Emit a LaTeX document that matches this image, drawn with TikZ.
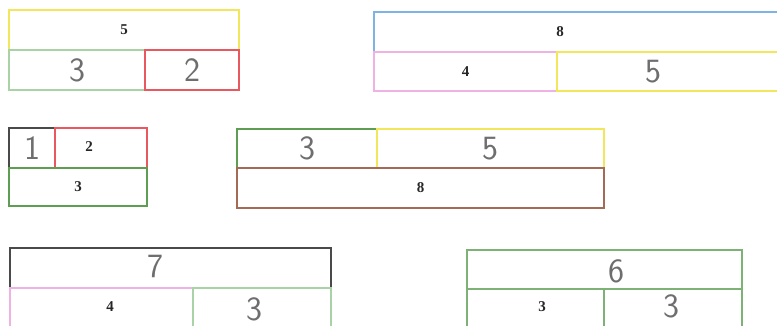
\documentclass[tikz,border=0pt]{standalone}
\usepackage{fontspec}
\usepackage{tikz}
\usetikzlibrary{positioning}
\newfontfamily\printfont{Liberation Serif}
\definecolor{barYellow}{HTML}{F2E65A}
\definecolor{barMint}{HTML}{A9D3A6}
\definecolor{barRed}{HTML}{E8585E}
\definecolor{barBlue}{HTML}{7FB3E6}
\definecolor{barPink}{HTML}{EFB3E3}
\definecolor{barDark}{HTML}{4A4A4A}
\definecolor{barGreen}{HTML}{5E9E52}
\definecolor{barBrown}{HTML}{A56A55}
\definecolor{handGray}{HTML}{6E6E6E}

\begin{document}
\begin{tikzpicture}[x=1pt, y=-1pt,
  cell/.style={draw, line width=1.6pt, inner sep=0pt, outer sep=0pt,
    anchor=north west, minimum height=40pt},
  printed/.style={font=\printfont\bfseries\fontsize{15pt}{15pt}\selectfont, text=black!85},
  hand/.style={font=\sffamily\fontsize{34pt}{34pt}\selectfont, text=handGray}]
  \useasboundingbox (0,0) rectangle (777,326);
  \clip (0,0) rectangle (777,326);
  % top left: 5 = 3 + 2
  \node[cell, printed, draw=barYellow, minimum width=230pt] (fiveTop) at (9,10) {5};
  \node[cell, hand, draw=barMint, minimum width=136pt] (threeA) at (9,50) {3};
  \node[cell, hand, draw=barRed, minimum width=94pt] (twoA) at (145,50) {2};
  % top right: 8 = 4 + 5 (runs off the page)
  \node[cell, draw=barBlue, minimum width=420pt] (eightTop) at (374,12) {};
  \node[printed] (eightLbl) at (560,32) {8};
  \node[cell, printed, draw=barPink, minimum width=183pt, minimum height=39pt] (fourA) at (374,52) {4};
  \node[cell, draw=barYellow, minimum width=240pt, minimum height=39pt] (fiveB) at (557,52) {};
  \node[hand] (fiveLbl) at (653,72) {5};
  % middle left: 1 + 2 = 3
  \node[cell, hand, draw=barDark, minimum width=46pt] (oneC) at (9,128) {1};
  \node[cell, draw=barRed, minimum width=92pt] (twoC) at (55,128) {};
  \node[printed] (twoLbl) at (89,147) {2};
  \node[cell, printed, draw=barGreen, minimum width=138pt, minimum height=38pt] (threeC) at (9,168) {3};
  % middle: 3 + 5 = 8
  \node[cell, hand, draw=barGreen, minimum width=140pt, minimum height=39pt] (threeD) at (237,129) {3};
  \node[cell, hand, draw=barYellow, minimum width=227pt, minimum height=39pt] (fiveD) at (377,129) {5};
  \node[cell, printed, draw=barBrown, minimum width=367pt] (eightD) at (237,168) {8};
  % bottom left: 7 = 4 + 3
  \node[cell, draw=barDark, minimum width=321pt] (sevenE) at (10,248) {};
  \node[hand] (sevenLbl) at (155,266) {7};
  \node[cell, draw=barPink, minimum width=183pt] (fourE) at (10,288) {};
  \node[printed] (fourLbl) at (110,307) {4};
  \node[cell, draw=barMint, minimum width=138pt] (threeE) at (193,288) {};
  \node[hand] (threeELbl) at (254,309) {3};
  % bottom right: 6 = 3 + 3
  \node[cell, draw=barGreen!80, minimum width=275pt, minimum height=39pt] (sixF) at (467,250) {};
  \node[hand] (sixLbl) at (616,271) {6};
  \node[cell, draw=barGreen!80, minimum width=137pt] (threeF) at (467,289) {};
  \node[printed] (threeFLbl) at (542,307) {3};
  \node[cell, draw=barGreen!80, minimum width=138pt] (threeG) at (604,289) {};
  \node[hand] (threeGLbl) at (671,306) {3};
\end{tikzpicture}
\end{document}
